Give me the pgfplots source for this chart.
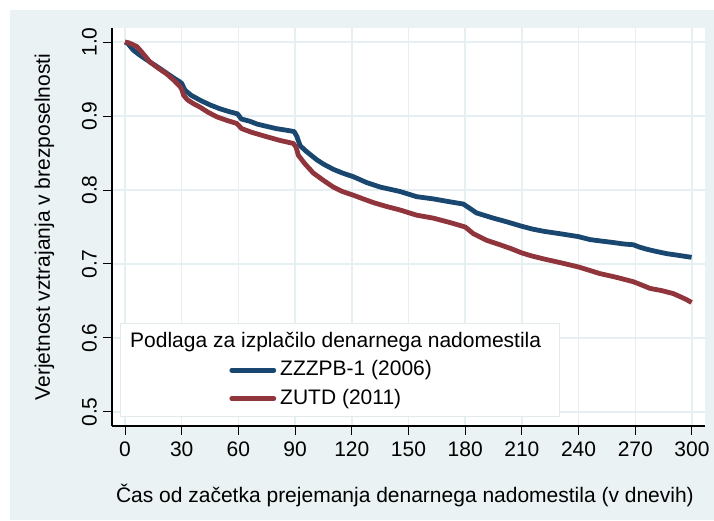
\documentclass[border=0pt]{standalone}
\usepackage{pgfplots}
\pgfplotsset{compat=1.18}
\usepackage{fontspec}
\setmainfont{Liberation Sans}
\definecolor{statabg}{HTML}{EAF2F3}
\definecolor{gridc}{HTML}{E6EFF1}
\definecolor{legbord}{HTML}{E2EAEC}
\definecolor{navyS}{RGB}{26,71,111}
\definecolor{maroonS}{RGB}{144,53,59}
\begin{document}
\begin{tikzpicture}[font=\fontsize{21}{24.5}\selectfont]
\useasboundingbox (0,0) rectangle (714pt,520pt);
\fill[white] (0,0) rectangle (714pt,520pt);
\fill[statabg] (10pt,0) rectangle (714pt,510pt);
\begin{axis}[
  at={(112pt,94pt)}, anchor=south west,
  scale only axis, width=593pt, height=398pt,
  xmin=-6.9, xmax=306.9, ymin=0.481, ymax=1.019,
  axis lines=left,
  axis line style={-, line width=1.2pt, black},
  axis background/.style={fill=white},
  xtick={0,30,60,90,120,150,180,210,240,270,300},
  xticklabels={0,30,60,90,120,150,180,210,240,270,300},
  ytick={0.5,0.6,0.7,0.8,0.9,1.0},
  yticklabels={0.5,0.6,0.7,0.8,0.9,1.0},
  tick align=outside,
  major tick length=8.5pt,
  tick style={black, line width=1pt},
  grid=major,
  major grid style={gridc, line width=1.5pt},
  /pgf/number format/assume math mode=true,
  xticklabel style={inner sep=0pt, anchor=north},
  xticklabel shift=7pt,
  yticklabel style={inner sep=0pt, rotate=90, anchor=south},
  yticklabel shift=6.5pt,
  xlabel={Čas od začetka prejemanja denarnega nadomestila (v dnevih)},
  ylabel={Verjetnost vztrajanja v brezposelnosti},
  every axis x label/.style={at={(axis description cs:0.494,-0.191)}, anchor=base},
  every axis y label/.style={at={(axis description cs:-0.1046,0.5)}, rotate=90, anchor=base},
  legend style={at={(0.0135,0.0226)}, anchor=south west, fill=white,
    draw=legbord, line width=0.8pt, inner xsep=4pt, inner ysep=6pt,
    row sep=4.5pt,
    nodes={inner ysep=2pt, inner xsep=4pt, text height=15.5pt, text depth=4.5pt},
    font=\fontsize{21}{24.5}\selectfont},
  legend cell align=left,
  legend image code/.code={\path (-105pt,0pt); \draw[#1, line cap=round] (0pt,0pt) -- (42pt,0pt);},
]
\addlegendimage{empty legend}
\addlegendentry{\hspace*{-150pt}Podlaga za izplačilo denarnega nadomestila\hspace*{10pt}}
\addplot[navyS, line width=4.8pt, line join=round] coordinates {
(0,1.000) (1.5,0.998) (4.4,0.989) (8,0.982) (13.2,0.973) (18,0.965) (22,0.958)
(26,0.951) (29.1,0.946) (30,0.944) (31.7,0.935) (35,0.928) (40,0.921) (45,0.915)
(50,0.910) (55,0.906) (59.5,0.903) (61.5,0.896) (66,0.893) (70,0.889) (75,0.886)
(80,0.883) (85,0.881) (89.5,0.879) (91,0.872) (92.6,0.860) (96,0.852) (101.4,0.841)
(105,0.835) (110.2,0.828) (115,0.823) (120.8,0.818) (127.9,0.810) (135,0.804)
(145.5,0.798) (154.3,0.791) (163.1,0.788) (172,0.784) (179,0.781) (182,0.776)
(186,0.769) (194.9,0.762) (202,0.757) (209.9,0.751) (215.9,0.747) (222,0.744)
(230,0.741) (239.9,0.737) (246,0.733) (252,0.731) (258.4,0.729) (264,0.727)
(269,0.726) (272,0.723) (276,0.720) (281,0.717) (286.6,0.714) (292,0.712)
(299.8,0.709)
};
\addlegendentry{ZZZPB-1 (2006)}
\addplot[maroonS, line width=4.8pt, line join=round] coordinates {
(0,1.000) (2,0.999) (6.2,0.994) (9,0.986) (13.2,0.973) (18,0.964) (22,0.957)
(26,0.948) (29.1,0.940) (30,0.936) (31,0.928) (33,0.922) (36,0.917) (39.7,0.912)
(44,0.905) (48.5,0.899) (54,0.894) (59.1,0.890) (61.7,0.883) (67,0.878) (75,0.872)
(82,0.867) (89,0.863) (90.5,0.858) (91.7,0.847) (95,0.836) (99.6,0.823) (105,0.813)
(110.2,0.804) (115,0.798) (120.8,0.793) (126,0.788) (131.4,0.783) (138,0.778)
(145.5,0.773) (154.3,0.766) (163.1,0.762) (172,0.756) (180,0.750) (184.3,0.741)
(191.4,0.732) (198.4,0.726) (204,0.721) (209.9,0.715) (215,0.711) (221.3,0.707)
(230,0.702) (239.9,0.696) (245,0.692) (251.3,0.687) (260,0.682) (269,0.676)
(273,0.672) (277.8,0.667) (284,0.664) (290.1,0.660) (293.6,0.656) (297,0.652)
(299.8,0.648)
};
\addlegendentry{ZUTD (2011)}
\end{axis}
\end{tikzpicture}
\end{document}
